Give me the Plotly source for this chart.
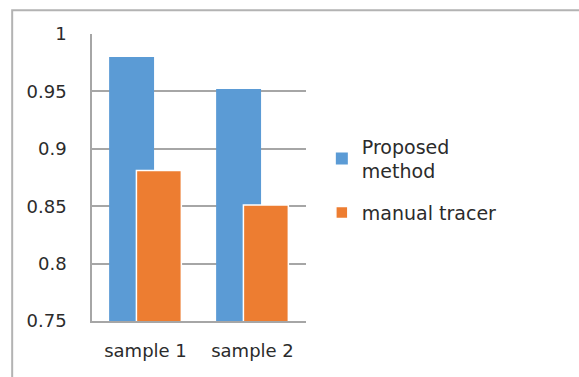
import plotly.graph_objects as go

# Scores per sample for each tracing approach
categories = ["sample 1", "sample 2"]
proposed_method = [0.980, 0.952]
manual_tracer = [0.881, 0.851]
y_ticks = [0.75, 0.8, 0.85, 0.9, 0.95, 1]
y_tick_labels = ["0.75", "0.8", "0.85", "0.9", "0.95", "1"]

BLUE = "#5b9bd5"
ORANGE = "#ed7d31"
GRID = "#a6a6a6"
TEXT = "#2b2b2b"
FONT = "DejaVu Sans"

fig = go.Figure()
fig.add_trace(go.Bar(
    x=categories, y=proposed_method, name="Proposed<br>method",
    legendgroup="proposed",
    marker=dict(color=BLUE, line=dict(width=0)),
    offset=-0.34, width=0.42,
))
fig.add_trace(go.Bar(
    x=categories, y=manual_tracer, name="manual tracer",
    legendgroup="manual",
    marker=dict(color=ORANGE, line=dict(color="white", width=1.5)),
    offset=-0.085, width=0.42,
))

# outer chart frame
fig.add_shape(type="rect", xref="paper", yref="paper",
              x0=-0.373, x1=2.5, y0=-0.3, y1=1.083,
              line=dict(color="#b3b3b3", width=2), fillcolor="rgba(0,0,0,0)",
              layer="below")

fig.update_layout(
    width=579, height=377,
    margin=dict(l=92, r=273, t=34, b=56),
    barmode="overlay",
    plot_bgcolor="white", paper_bgcolor="white",
    font=dict(family=FONT, size=18, color=TEXT),
    showlegend=True,
    legend=dict(x=1.074, y=0.675, xanchor="left", yanchor="top",
                font=dict(family=FONT, size=19, color=TEXT),
                itemwidth=30, tracegroupgap=14, bgcolor="rgba(0,0,0,0)"),
    xaxis=dict(
        range=[-0.5, 1.5], showgrid=False, zeroline=False,
        showline=True, linecolor=GRID, linewidth=1.5,
        ticks="", ticklabelstandoff=13,
        tickfont=dict(family=FONT, size=18, color=TEXT),
    ),
    yaxis=dict(
        range=[0.75, 1.0], tickvals=y_ticks, ticktext=y_tick_labels,
        showgrid=True, gridcolor=GRID, gridwidth=1.5, zeroline=False,
        showline=True, linecolor=GRID, linewidth=1.5,
        ticks="", ticklabelstandoff=20,
        tickfont=dict(family=FONT, size=18, color=TEXT),
    ),
)

fig.write_html("out.html")
